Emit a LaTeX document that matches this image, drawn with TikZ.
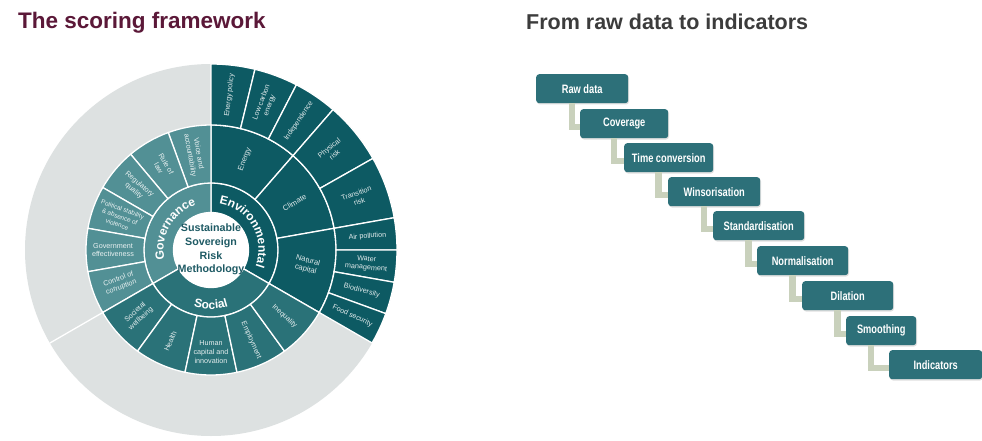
\documentclass[tikz,border=0pt]{standalone}
\usepackage{fontspec}
\setmainfont{Liberation Sans}
\newfontfamily\narrowsans{Liberation Sans}[FakeStretch=0.76]
\usetikzlibrary{decorations.text,shadows}

\definecolor{envteal}{HTML}{0D5A63}
\definecolor{socteal}{HTML}{2A7278}
\definecolor{govteal}{HTML}{529095}
\definecolor{ringgrey}{HTML}{DDE1E1}
\definecolor{titlered}{HTML}{5B1838}
\definecolor{titlegrey}{HTML}{3C3C3C}
\definecolor{stepteal}{HTML}{2D7079}
\definecolor{elbow}{HTML}{C9D1BC}
\definecolor{hubtext}{HTML}{1E5A64}

% annular sector: inner radius, outer radius, start angle, end angle, colour
\newcommand{\wedgeseg}[5]{%
  \fill[#5,draw=white,line width=1.3pt]
    (#3:#1pt) arc[start angle=#3,end angle=#4,radius=#1pt]
    -- (#4:#2pt) arc[start angle=#4,end angle=#3,radius=#2pt] -- cycle;}

\begin{document}
\begin{tikzpicture}[x=1pt,y=1pt,
  seglabel/.style={font=\fontsize{7.2}{8.6}\selectfont, align=center,
    text=white, text opacity=0.88, inner sep=0pt},
  midlabel/.style={seglabel, font=\fontsize{7.6}{9}\selectfont},
  stepbox/.style={rectangle, rounded corners=3pt, fill=stepteal,
    minimum height=29pt, minimum width=91pt, inner sep=0pt,
    text=white, font=\narrowsans\bfseries\fontsize{12.2}{14}\selectfont,
    drop shadow={shadow xshift=0.8pt, shadow yshift=-1.3pt, opacity=0.25}},
  elbowline/.style={draw=elbow, line width=6.5pt}]

\useasboundingbox (0,0) rectangle (982,440);
\fill[white] (0,0) rectangle (982,440);

% headings
\node[anchor=base west, inner sep=0pt, text=titlered,
  font=\fontsize{22.5}{27}\selectfont\bfseries] (lefttitle) at (18,411.5)
  {The scoring framework};
\node[anchor=base west, inner sep=0pt, text=titlegrey,
  font=\fontsize{21.5}{26}\selectfont\bfseries] (righttitle) at (526,410)
  {From raw data to indicators};

% ---------------- sunburst ----------------
\begin{scope}[shift={(211,190)}]
  \fill[ringgrey] (0,0) circle[radius=186pt];
  \draw[white,line width=1.3pt] (210:125pt) -- (210:186pt);

  % Environmental pillar
  \wedgeseg{37}{67}{90}{-30}{envteal}
  \wedgeseg{67}{125}{90}{49}{envteal}
  \wedgeseg{67}{125}{49}{10}{envteal}
  \wedgeseg{67}{125}{10}{-30}{envteal}
  \wedgeseg{125}{186}{90}{76.33}{envteal}
  \wedgeseg{125}{186}{76.33}{62.67}{envteal}
  \wedgeseg{125}{186}{62.67}{49}{envteal}
  \wedgeseg{125}{186}{49}{29.5}{envteal}
  \wedgeseg{125}{186}{29.5}{10}{envteal}
  \wedgeseg{125}{186}{10}{0}{envteal}
  \wedgeseg{125}{186}{0}{-10}{envteal}
  \wedgeseg{125}{186}{-10}{-20}{envteal}
  \wedgeseg{125}{186}{-20}{-30}{envteal}

  % Governance pillar
  \wedgeseg{37}{67}{90}{210}{govteal}
  \wedgeseg{67}{125}{90}{110}{govteal}
  \wedgeseg{67}{125}{110}{130}{govteal}
  \wedgeseg{67}{125}{130}{150}{govteal}
  \wedgeseg{67}{125}{150}{170}{govteal}
  \wedgeseg{67}{125}{170}{190}{govteal}
  \wedgeseg{67}{125}{190}{210}{govteal}

  % Social pillar
  \wedgeseg{37}{67}{210}{330}{socteal}
  \wedgeseg{67}{125}{210}{234}{socteal}
  \wedgeseg{67}{125}{234}{258}{socteal}
  \wedgeseg{67}{125}{258}{282}{socteal}
  \wedgeseg{67}{125}{282}{306}{socteal}
  \wedgeseg{67}{125}{306}{330}{socteal}

  % hub
  \fill[white,draw=white,line width=1.3pt] (0,0) circle[radius=37.5pt];
  \node[align=center, inner sep=0pt, text=hubtext,
    font=\fontsize{10.7}{13.6}\selectfont\bfseries] (hub) at (0,0.5)
    {Sustainable\\Sovereign\\Risk\\Methodology};

  % pillar names along the inner ring
  \path[decorate, decoration={text along path, text align=center,
      text color=white,
      text={|\fontsize{12}{14}\selectfont\bfseries|Environmental}}]
    (90:47.5pt) arc[start angle=90,end angle=-30,radius=47.5pt];
  \path[decorate, decoration={text along path, text align=center,
      text color=white,
      text={|\fontsize{12}{14}\selectfont\bfseries|Governance}}]
    (210:47.5pt) arc[start angle=210,end angle=90,radius=47.5pt];
  \path[decorate, decoration={text along path, text align=center,
      text color=white,
      text={|\fontsize{12}{14}\selectfont\bfseries|Social}}]
    (210:59pt) arc[start angle=210,end angle=330,radius=59pt];

  % environmental themes
  \node[midlabel, rotate=69.5] (energy) at (69.5:97) {Energy};
  \node[midlabel, rotate=29.5] (climate) at (29.5:96) {Climate};
  \node[midlabel, rotate=-15] (natcap) at (-9:97) {Natural\\capital};

  % environmental indicators
  \node[seglabel, rotate=83.2] (enpol) at (83.2:156) {Energy policy};
  \node[seglabel, rotate=69.5] (lowcarb) at (69.5:156) {Low carbon\\energy};
  \node[seglabel, rotate=55.8] (indep) at (55.8:156) {Independence};
  \node[seglabel, rotate=39.25] (physrisk) at (39.25:156) {Physical\\risk};
  \node[seglabel, rotate=19.75] (transrisk) at (19.75:156) {Transition\\risk};
  \node[seglabel, rotate=4] (airpol) at (5:157) {Air pollution};
  \node[seglabel, rotate=-5] (water) at (-5:156) {Water\\management};
  \node[seglabel, rotate=-15] (biodiv) at (-15:156) {Biodiversity};
  \node[seglabel, rotate=-25] (food) at (-25:156) {Food security};

  % governance indicators
  \node[seglabel, rotate=-80] (voice) at (100:97) {Voice and\\accountability};
  \node[seglabel, rotate=-60] (rule) at (120:97) {Rule of\\law};
  \node[seglabel, rotate=-40] (regq) at (140:97) {Regulatory\\quality};
  \node[seglabel, rotate=-20, font=\fontsize{6.4}{8}\selectfont] (polstab)
    at (160:97) {Political stability\\\& absence of\\violence};
  \node[seglabel, rotate=0] (goveff) at (180:98) {Government\\effectiveness};
  \node[seglabel, rotate=20] (corrupt) at (200:97) {Control of\\corruption};

  % social indicators
  \node[seglabel, rotate=42] (wellb) at (222:98) {Societal\\wellbeing};
  \node[seglabel, rotate=66] (health) at (246:100) {Health};
  \node[seglabel] (humcap) at (270:102) {Human\\capital and\\innovation};
  \node[seglabel, rotate=-66] (employ) at (294:99) {Employment};
  \node[seglabel, rotate=-42] (inequal) at (318:99) {Inequality};
\end{scope}

% ---------------- processing steps ----------------
\node[stepbox, anchor=north west, minimum width=92pt] (raw) at (536,366) {Raw data};
\node[stepbox, anchor=north west, minimum width=88pt] (cov) at (580,331) {Coverage};
\node[stepbox, anchor=north west, minimum width=89pt] (timec) at (624,297) {Time conversion};
\node[stepbox, anchor=north west, minimum width=92pt] (wins) at (668,263) {Winsorisation};
\node[stepbox, anchor=north west] (stand) at (713,229) {Standardisation};
\node[stepbox, anchor=north west] (norm) at (757,194) {Normalisation};
\node[stepbox, anchor=north west] (dil) at (802,159) {Dilation};
\node[stepbox, anchor=north west, minimum width=70pt] (smooth) at (846,124) {Smoothing};
\node[stepbox, anchor=north west, minimum width=93pt] (ind) at (889,90) {Indicators};

\draw[elbowline] ([xshift=-10pt]raw.south) |- ([yshift=-3.5pt]cov.west);
\draw[elbowline] ([xshift=-10pt]cov.south) |- ([yshift=-3.5pt]timec.west);
\draw[elbowline] ([xshift=-10pt]timec.south) |- ([yshift=-3.5pt]wins.west);
\draw[elbowline] ([xshift=-10pt]wins.south) |- ([yshift=-3.5pt]stand.west);
\draw[elbowline] ([xshift=-10pt]stand.south) |- ([yshift=-3.5pt]norm.west);
\draw[elbowline] ([xshift=-10pt]norm.south) |- ([yshift=-3.5pt]dil.west);
\draw[elbowline] ([xshift=-10pt]dil.south) |- ([yshift=-3.5pt]smooth.west);
\draw[elbowline] ([xshift=-10pt]smooth.south) |- ([yshift=-3.5pt]ind.west);
\end{tikzpicture}
\end{document}
